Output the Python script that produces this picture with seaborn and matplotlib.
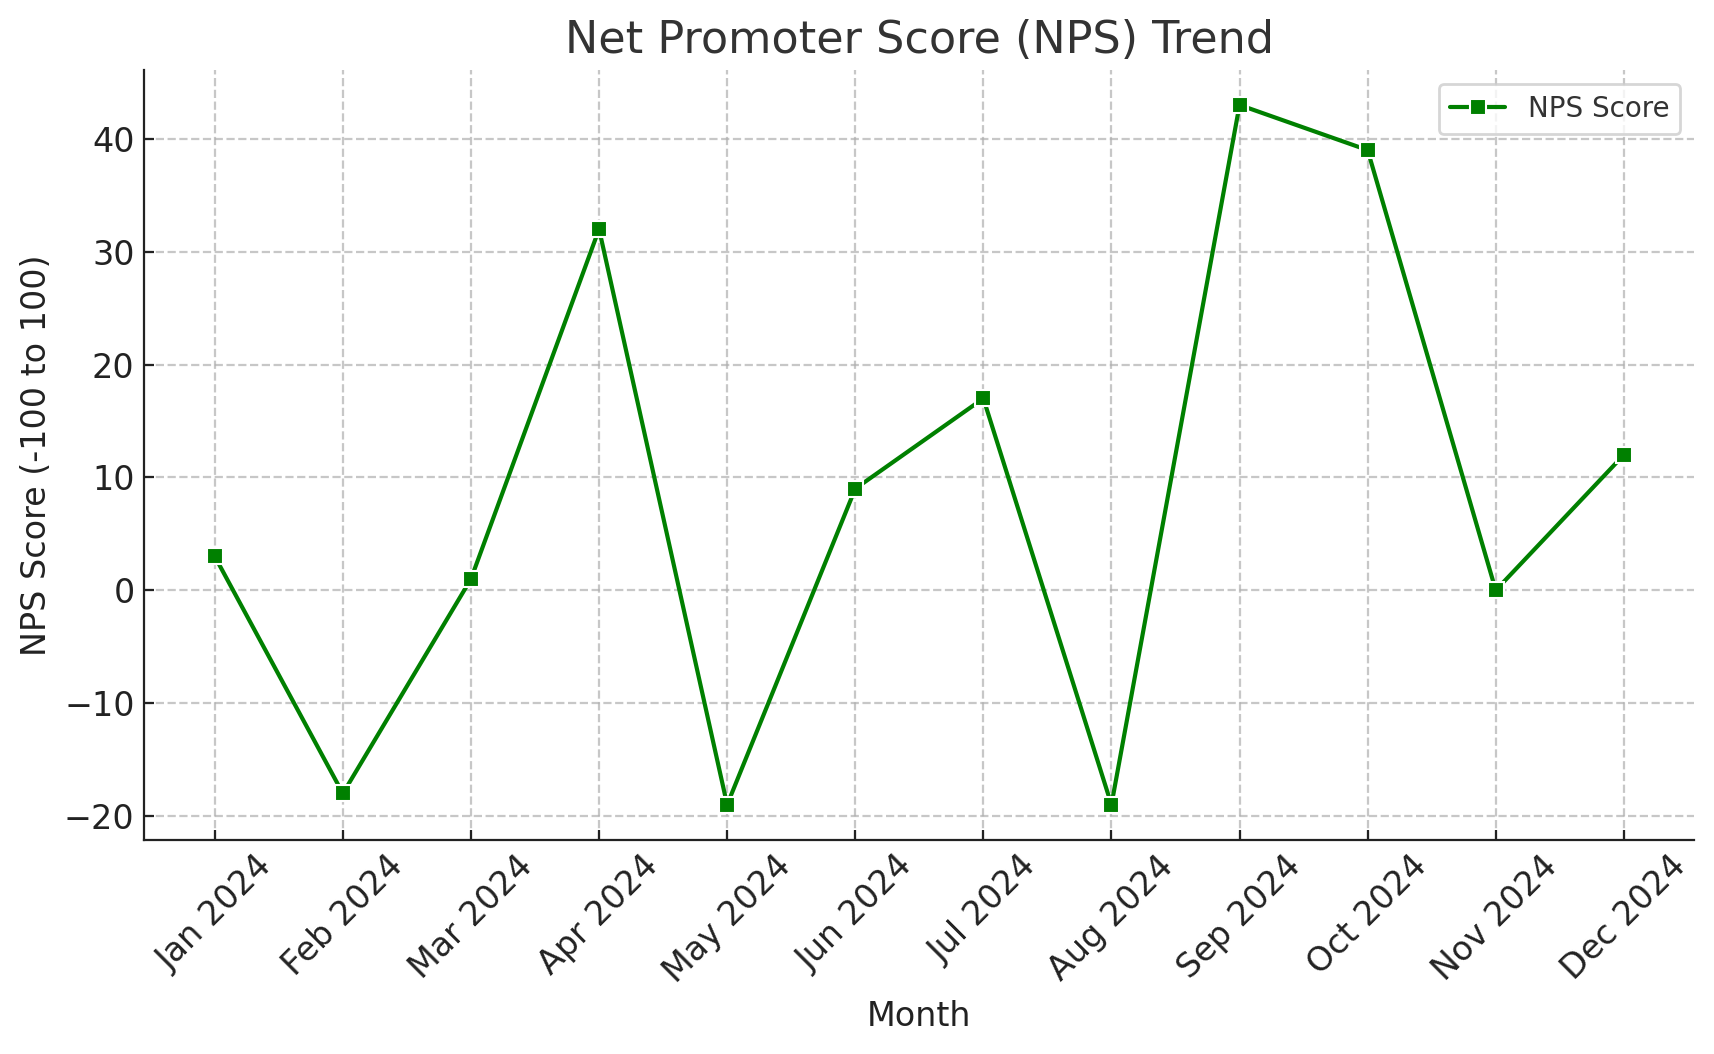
import matplotlib
matplotlib.use("Agg")
import matplotlib.pyplot as plt
import seaborn as sns
import pandas as pd

months = ["Jan 2024", "Feb 2024", "Mar 2024", "Apr 2024", "May 2024", "Jun 2024",
          "Jul 2024", "Aug 2024", "Sep 2024", "Oct 2024", "Nov 2024", "Dec 2024"]
nps = [3, -18, 1, 32, -19, 9, 17, -19, 43, 39, 0, 12]

df = pd.DataFrame({"Month": months, "NPS": nps})

sns.set_style("ticks")
plt.rcParams['font.family'] = ['DejaVu Sans']

fig, ax = plt.subplots(figsize=(8.57, 5.27), dpi=200)
sns.lineplot(data=df, x="Month", y="NPS", marker="s", color="green", ax=ax,
             label="NPS Score", linewidth=1.5, markersize=6, sort=False)

ax.set_title("Net Promoter Score (NPS) Trend", fontsize=16, color="#333333")
ax.set_xlabel("Month", fontsize=12, color="#222222")
ax.set_ylabel("NPS Score (-100 to 100)", fontsize=12, color="#222222")
ax.tick_params(axis="x", rotation=45, labelsize=12, colors="#222222", direction="in")
ax.tick_params(axis="y", labelsize=12, colors="#222222", direction="in")
for lbl in ax.get_xticklabels():
    lbl.set_ha("center")
ax.grid(True, linestyle="--", color="#b0b0b0", alpha=0.7, linewidth=0.8)
for s in ax.spines.values():
    s.set_color("#222222")
sns.despine(ax=ax)
leg = ax.legend(loc="upper right", fontsize=10)
for t in leg.get_texts():
    t.set_color("#333333")

fig.subplots_adjust(left=0.0842, right=0.9885, top=0.9336, bottom=0.2033)
fig.savefig("out.png", dpi=200)
